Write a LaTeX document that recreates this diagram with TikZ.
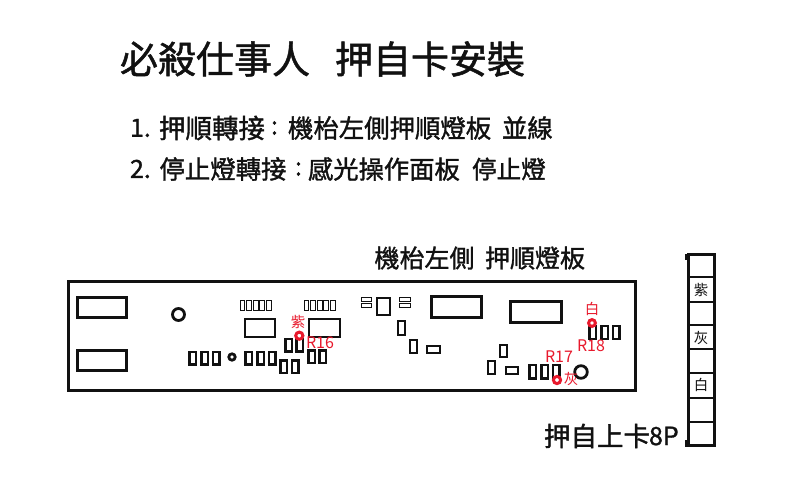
\documentclass[tikz,border=0pt]{standalone}
\usepackage{fontspec}
\setmainfont{Noto Sans CJK TC}
\newfontfamily\heavyf[FakeBold=1.3]{Noto Sans CJK TC}
\newcommand{\fs}[1]{\fontsize{#1}{#1}\selectfont\heavyf}
\definecolor{redink}{HTML}{E8192C}
\definecolor{inkc}{HTML}{111111}
\tikzset{
  heavybox/.style={draw=inkc,line width=3pt,fill=white},
  midbox/.style={draw=inkc,line width=2.4pt,fill=white},
  thinbox/.style={draw=inkc,line width=2pt,fill=white},
  tinybox/.style={draw=inkc,line width=1pt,fill=white},
  ring/.style={draw=inkc,line width=2.8pt,fill=white},
  redring/.style={draw=redink,line width=3pt,fill=white},
  txt/.style={inner sep=0pt,outer sep=0pt,text=inkc,anchor=west},
  redtxt/.style={inner sep=0pt,outer sep=0pt,text=redink,font=\fontsize{14.5}{14.5}\selectfont},
  redcode/.style={inner sep=0pt,outer sep=0pt,text=redink,font=\fontsize{16}{16}\selectfont},
  pin/.style={inner sep=0pt,outer sep=0pt,text=inkc,font=\fontsize{14.5}{14.5}\selectfont},
}
\begin{document}
\begin{tikzpicture}[x=1pt,y=-1pt]
\useasboundingbox (0,0) rectangle (800,480);
% texts
\node[txt,font=\fs{38}] (t1) at (120,59) {必殺仕事人};
\node[txt,font=\fs{38}] (t2) at (335,59) {押自卡安裝};
\node[txt,font=\fs{25}] (a0) at (130,128) {1.};
\node[txt,font=\fs{26.5}] (a1) at (159,128) {押順轉接};
\node[txt,font=\fs{25}] (a2) at (271,128) {:};
\node[txt,font=\fs{25.4}] (a3) at (288,128) {機枱左側押順燈板};
\node[txt,font=\fs{25.4}] (a4) at (502,128) {並線};
\node[txt,font=\fs{25}] (b0) at (130,169) {2.};
\node[txt,font=\fs{25.4}] (b1) at (159.5,169) {停止燈轉接};
\node[txt,font=\fs{25}] (b2) at (295,169) {:};
\node[txt,font=\fs{25.3}] (b3) at (308,169) {感光操作面板};
\node[txt,font=\fs{24.6}] (b4) at (472,169) {停止燈};
\node[txt,font=\fs{25}] (c1) at (374.5,258) {機枱左側};
\node[txt,font=\fs{25}] (c2) at (485,258) {押順燈板};
\node[txt,font=\fs{26.5}] (c3) at (544,436) {押自上卡};
\node[txt,font=\fs{25}] (c4) at (649,436) {8P};
% board
\draw[heavybox] (68,281.5) rectangle (635.5,390);
\draw[heavybox] (77,297.5) rectangle (126.5,317.5);
\draw[heavybox] (77,350.5) rectangle (126.5,370.5);
\draw[heavybox] (431.5,296.5) rectangle (481.5,317);
\draw[heavybox] (510.5,301) rectangle (561,322);
\draw[ring] (178.5,314.5) circle (6);
\draw[ring] (232,357) circle (3.2);
\draw[ring] (581,372) circle (6.3);
\foreach \x in {240,246.6,253.2,259.8,266.4}{\draw[tinybox] (\x,300.5) rectangle ++(4.8,9.5);}
\foreach \x in {304,310.6,317.2,323.8,330.4}{\draw[tinybox] (\x,300.5) rectangle ++(4.8,9.5);}
\draw[thinbox] (245,319) rectangle (275,337);
\draw[thinbox] (309,319) rectangle (340,337);
\foreach \x in {189.5,201.5,213}{\draw[midbox] (\x,352) rectangle ++(6.5,12.5);}
\foreach \x in {245.5,257.5,269}{\draw[midbox] (\x,352) rectangle ++(6.5,12.5);}
\foreach \x in {280.5,292}{\draw[midbox] (\x,360.5) rectangle ++(6.5,12.5);}
\foreach \x in {285.5,296.5}{\draw[midbox] (\x,339) rectangle ++(6.5,12.5);}
\foreach \x in {308.5,319.5}{\draw[midbox] (\x,350.5) rectangle ++(6.5,12.5);}
% right part
\foreach \y in {297.5,303.5}{\draw[tinybox] (361,\y) rectangle ++(10.5,4.2);\draw[tinybox] (399.5,\y) rectangle ++(10.5,4.2);}
\draw[thinbox] (377,298) rectangle (389.5,314.5);
\draw[thinbox] (398,320.5) rectangle (404.5,334.5);
\draw[thinbox] (410,339.5) rectangle (416.5,352.5);
\draw[thinbox] (427,345.5) rectangle (439.5,352.5);
\draw[thinbox] (500,344.5) rectangle (506.5,356.5);
\draw[thinbox] (488,360.5) rectangle (494.5,373.5);
\draw[thinbox] (506,366.5) rectangle (517.5,373.5);
\foreach \x in {529.5,541.5,553}{\draw[midbox] (\x,365) rectangle ++(6.5,13.5);}
\foreach \x in {589.5,601.5,613}{\draw[midbox] (\x,326) rectangle ++(6.5,13);}
% red marks
\draw[redring] (299.3,335.7) circle (3.6);
\draw[redring] (557,380) circle (3.6);
\draw[redring] (592,323) circle (3.4);
\node[redtxt] (r1) at (298,321.5) {紫};
\node[redcode] (r2) at (320,343) {R16};
\node[redcode] (r3) at (559,357) {R17};
\node[redcode] (r4) at (591,346) {R18};
\node[redtxt] (r5) at (571,379) {灰};
\node[redtxt] (r6) at (592,309) {白};
% connector
\fill[inkc] (684.5,253.5) rectangle (688,260);
\fill[inkc] (684.5,440) rectangle (688,446.5);
\draw[draw=inkc,line width=3pt] (688,254) rectangle (714.5,445);
\foreach \y in {277,302,325,349,373,398,422}{\draw[draw=inkc,line width=2.5pt] (688,\y) -- (714.5,\y);}
\node[pin] (p1) at (701,290) {紫};
\node[pin] (p2) at (701,338) {灰};
\node[pin] (p3) at (701,385) {白};
\end{tikzpicture}
\end{document}
